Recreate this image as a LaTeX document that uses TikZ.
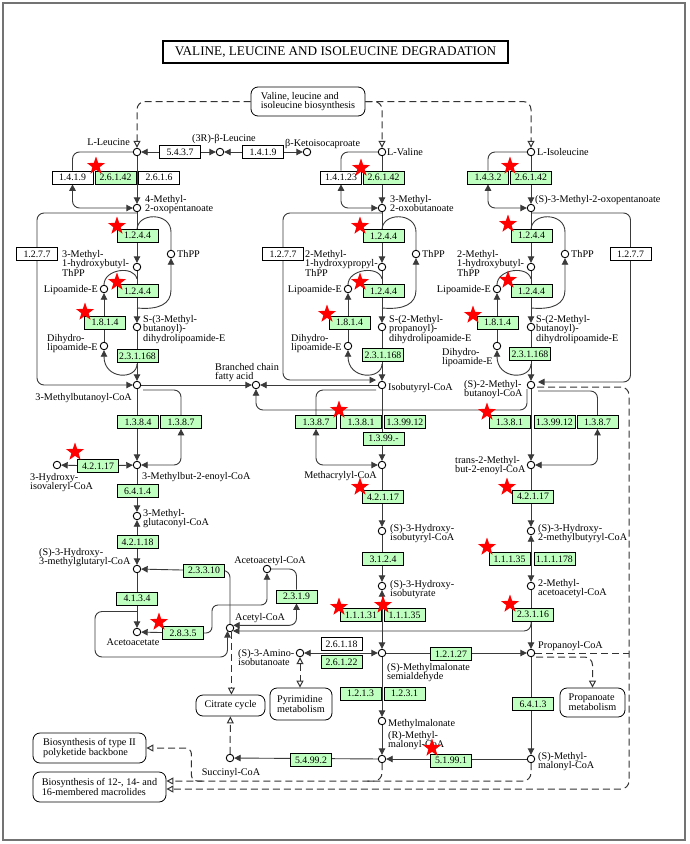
\documentclass[tikz,border=0pt]{standalone}
\usepackage{fontspec}
\setmainfont{Liberation Serif}
\usetikzlibrary{arrows.meta,calc,shapes.geometric}
\definecolor{ecgreen}{HTML}{BFFFBF}
\definecolor{linegray}{HTML}{3A3A3A}
\pgfdeclarelayer{bg}
\pgfsetlayers{bg,main}
\tikzset{
  cpd/.style={circle, draw=black, fill=white, line width=0.9pt,
    inner sep=0, minimum size=7.5pt},
  ecbox/.style={draw=black, line width=0.7pt, fill=ecgreen,
    minimum width=41pt, minimum height=13pt, inner sep=0,
    font=\fontsize{9.8}{10}\selectfont},
  ecwhite/.style={ecbox, fill=white},
  lbl/.style={inner sep=0, align=left, font=\fontsize{10.2}{9.6}\selectfont},
  mapbox/.style={draw=black, line width=0.8pt, rounded corners=7pt,
    fill=white, align=left, inner sep=0, font=\fontsize{10.2}{9.6}\selectfont},
  rxn/.style={draw=linegray, line width=0.9pt},
  dsh/.style={draw=black!80, line width=1pt, dash pattern=on 7pt off 4pt},
  opentip/.style={-{Triangle[open, length=7pt, width=7pt]}},
  opentips/.style={{Triangle[open, length=7pt, width=7pt]}-{Triangle[open, length=7pt, width=7pt]}},
  redstar/.style={star, star points=5, star point ratio=2.5, fill=red,
    draw=none, inner sep=0, minimum size=19pt}
}
\begin{document}
\begin{tikzpicture}[x=1pt, y=-1pt, >={Triangle[length=6.5pt, width=6.5pt]}]
\useasboundingbox (0,0) rectangle (689,844);
\node[draw, line width=1.6pt, minimum width=345pt, minimum height=22pt, inner sep=0,
  font=\fontsize{13.2}{14}\selectfont] (title) at (335.5,52)
  {VALINE, LEUCINE AND ISOLEUCINE DEGRADATION};
\node[mapbox, minimum width=114pt, minimum height=29pt] (biosyn) at (308,101.5) {Valine, leucine and\\isoleucine biosynthesis};
\node[mapbox, minimum width=69pt, minimum height=21pt] (citrate) at (230.5,705.5) {Citrate cycle};
\node[mapbox, minimum width=62pt, minimum height=32pt] (pyr) at (301,704) {Pyrimidine\\metabolism};
\node[mapbox, minimum width=65pt, minimum height=29pt] (prop) at (592.5,702.5) {Propanoate\\metabolism};
\node[mapbox, minimum width=113pt, minimum height=30pt] (poly) at (89.5,748) {Biosynthesis of type II\\polyketide backbone};
\node[mapbox, minimum width=133pt, minimum height=30pt] (macro) at (99.5,787) {Biosynthesis of 12-, 14- and\\16-membered macrolides};

\node[cpd] (leu) at (137,152) {};
\node[cpd] (bleu) at (220,152) {};
\node[cpd] (kic) at (307,152) {};
\node[cpd] (val) at (382,152) {};
\node[cpd] (ile) at (531,152) {};
\node[cpd] (mop) at (137,208) {};
\node[cpd] (mob) at (382,208) {};
\node[cpd] (kmv) at (531,208) {};
\node[cpd] (mhbt) at (137,267) {};
\node[cpd] (mhpt) at (382,267) {};
\node[cpd] (mhbt2) at (531,267) {};
\node[cpd] (thpp1) at (171,254) {};
\node[cpd] (thpp2) at (416,254) {};
\node[cpd] (thpp3) at (565,254) {};
\node[cpd] (lip1) at (104,289) {};
\node[cpd] (lip2) at (348,289) {};
\node[cpd] (lip3) at (497,289) {};
\node[cpd] (smb) at (137,327) {};
\node[cpd] (smp) at (382,327) {};
\node[cpd] (smbu) at (531,327) {};
\node[cpd] (dhl1) at (104,346) {};
\node[cpd] (dhl2) at (348,346) {};
\node[cpd] (dhl3) at (497,346) {};
\node[cpd] (mbcoa) at (137,385) {};
\node[cpd] (bcfa) at (256,385) {};
\node[cpd] (ibcoa) at (382,385) {};
\node[cpd] (mbcoa2) at (531,385) {};
\node[cpd] (hiv) at (57,465) {};
\node[cpd] (mbe) at (137,465) {};
\node[cpd] (macoa) at (382,465) {};
\node[cpd] (tmb) at (531,465) {};
\node[cpd] (mgc) at (137,516) {};
\node[cpd] (hibcoa) at (382,531) {};
\node[cpd] (hmbcoa) at (531,531) {};
\node[cpd] (hmg) at (137,569) {};
\node[cpd] (acacoa) at (267,569) {};
\node[cpd] (hib) at (382,586) {};
\node[cpd] (macacoa) at (531,586) {};
\node[cpd] (accoa) at (230,628) {};
\node[cpd] (aca) at (137,632) {};
\node[cpd] (aib) at (300,653) {};
\node[cpd] (mmsa) at (382,653) {};
\node[cpd] (ppcoa) at (531,653) {};
\node[cpd] (mma) at (382,721) {};
\node[cpd] (sucoa) at (230,758) {};
\node[cpd] (rmmcoa) at (382,759) {};
\node[cpd] (smmcoa) at (531,759) {};

\node[ecwhite] (e5437) at (180,152) {5.4.3.7};
\node[ecwhite] (e1419b) at (263,152) {1.4.1.9};
\node[ecwhite] (e1419a) at (72.5,177.5) {1.4.1.9};
\node[ecbox] (e26142a) at (115.5,177.5) {2.6.1.42};
\node[ecwhite] (e2616) at (159,177.5) {2.6.1.6};
\node[ecwhite] (e14123) at (341,177.5) {1.4.1.23};
\node[ecbox] (e26142b) at (383.5,177.5) {2.6.1.42};
\node[ecbox] (e1432) at (488,177.5) {1.4.3.2};
\node[ecbox] (e26142c) at (531,177.5) {2.6.1.42};
\node[ecbox] (e1244a) at (137.5,235.5) {1.2.4.4};
\node[ecbox] (e1244c) at (383.5,236) {1.2.4.4};
\node[ecbox] (e1244e) at (531.5,235.5) {1.2.4.4};
\node[ecwhite] (e1277a) at (37,254) {1.2.7.7};
\node[ecwhite] (e1277b) at (283,254) {1.2.7.7};
\node[ecwhite] (e1277c) at (630.5,254) {1.2.7.7};
\node[ecbox] (e1244b) at (137.5,291) {1.2.4.4};
\node[ecbox] (e1244d) at (383.5,291) {1.2.4.4};
\node[ecbox] (e1244f) at (531.5,291) {1.2.4.4};
\node[ecbox] (e1814a) at (105,322.5) {1.8.1.4};
\node[ecbox] (e1814b) at (349.5,322.5) {1.8.1.4};
\node[ecbox] (e1814c) at (497.5,322.5) {1.8.1.4};
\node[ecbox] (e231168a) at (137.5,356) {2.3.1.168};
\node[ecbox] (e231168b) at (383,355) {2.3.1.168};
\node[ecbox] (e231168c) at (530,354) {2.3.1.168};
\node[ecbox] (e1384) at (138,422) {1.3.8.4};
\node[ecbox] (e1387a) at (181,422) {1.3.8.7};
\node[ecbox] (e1387b) at (316,422) {1.3.8.7};
\node[ecbox] (e1381a) at (361,422) {1.3.8.1};
\node[ecbox] (e139912a) at (405,422) {1.3.99.12};
\node[ecbox] (e1399) at (383.5,438.5) {1.3.99.-};
\node[ecbox] (e1381b) at (509.5,422) {1.3.8.1};
\node[ecbox] (e139912b) at (554.5,422) {1.3.99.12};
\node[ecbox] (e1387c) at (597.5,422) {1.3.8.7};
\node[ecbox] (e42117a) at (98,466) {4.2.1.17};
\node[ecbox] (e6414) at (137.5,491) {6.4.1.4};
\node[ecbox] (e42117b) at (383,497) {4.2.1.17};
\node[ecbox] (e42117c) at (533,496.5) {4.2.1.17};
\node[ecbox] (e42118) at (137.5,542) {4.2.1.18};
\node[ecbox] (e3124) at (383,559) {3.1.2.4};
\node[ecbox] (e11135b) at (509.5,559) {1.1.1.35};
\node[ecbox] (e111178) at (554.5,559) {1.1.1.178};
\node[ecbox] (e23310) at (204,570.5) {2.3.3.10};
\node[ecbox] (e2319) at (296.5,596.5) {2.3.1.9};
\node[ecbox] (e4134) at (137,598.5) {4.1.3.4};
\node[ecbox] (e11131) at (361,615) {1.1.1.31};
\node[ecbox] (e11135a) at (404.5,615) {1.1.1.35};
\node[ecbox] (e23116) at (533,614.5) {2.3.1.16};
\node[ecbox] (e2835) at (183,633) {2.8.3.5};
\node[ecwhite] (e26118) at (341.5,644) {2.6.1.18};
\node[ecbox] (e26122) at (341.5,662) {2.6.1.22};
\node[ecbox] (e12127) at (451,654) {1.2.1.27};
\node[ecbox] (e1213) at (360.5,693.5) {1.2.1.3};
\node[ecbox] (e1231) at (404.5,693.5) {1.2.3.1};
\node[ecbox] (e6413) at (533,704) {6.4.1.3};
\node[ecbox] (e54992) at (311,760) {5.4.99.2};
\node[ecbox] (e51991) at (451,760.5) {5.1.99.1};

\node[lbl, anchor=north east] (tleu) at (130,139) {L-Leucine};
\node[lbl, anchor=north] (tbleu) at (224,134) {(3R)-β-Leucine};
\node[lbl, anchor=north west] (tkic) at (285,139) {β-Ketoisocaproate};
\node[lbl, anchor=north west] (tval) at (387,148) {L-Valine};
\node[lbl, anchor=north west] (tile) at (537,148) {L-Isoleucine};
\node[lbl, anchor=north west] (tmop) at (145,195) {4-Methyl-\\2-oxopentanoate};
\node[lbl, anchor=north west] (tmob) at (390,195) {3-Methyl-\\2-oxobutanoate};
\node[lbl, anchor=north west] (tkmv) at (535,195) {(S)-3-Methyl-2-oxopentanoate};
\node[lbl, anchor=north west] (tmhbt) at (62,250) {3-Methyl-\\1-hydroxybutyl-\\ThPP};
\node[lbl, anchor=north west] (tmhpt) at (305,250) {2-Methyl-\\1-hydroxypropyl-\\ThPP};
\node[lbl, anchor=north west] (tmhbt2) at (457,250) {2-Methyl-\\1-hydroxybutyl-\\ThPP};
\node[lbl, anchor=north west] (tthpp1) at (177,250) {ThPP};
\node[lbl, anchor=north west] (tthpp2) at (422,250) {ThPP};
\node[lbl, anchor=north west] (tthpp3) at (571,250) {ThPP};
\node[lbl, anchor=north east] (tlip1) at (98,285) {Lipoamide-E};
\node[lbl, anchor=north east] (tlip2) at (342,285) {Lipoamide-E};
\node[lbl, anchor=north east] (tlip3) at (491,285) {Lipoamide-E};
\node[lbl, anchor=north west] (tsmb) at (143,315) {S-(3-Methyl-\\butanoyl)-\\dihydrolipoamide-E};
\node[lbl, anchor=north west] (tsmp) at (389,315) {S-(2-Methyl-\\propanoyl)-\\dihydrolipoamide-E};
\node[lbl, anchor=north west] (tsmbu) at (536,315) {S-(2-Methyl-\\butanoyl)-\\dihydrolipoamide-E};
\node[lbl, anchor=north west] (tdhl1) at (47,334) {Dihydro-\\lipoamide-E};
\node[lbl, anchor=north west] (tdhl2) at (291,334) {Dihydro-\\lipoamide-E};
\node[lbl, anchor=north west] (tdhl3) at (442,348) {Dihydro-\\lipoamide-E};
\node[lbl, anchor=north east] (tmbcoa) at (132,393) {3-Methylbutanoyl-CoA};
\node[lbl, anchor=north west] (tbcfa) at (215,363) {Branched chain\\fatty acid};
\node[lbl, anchor=north west] (tibcoa) at (388,383) {Isobutyryl-CoA};
\node[lbl, anchor=north west] (tmbcoa2) at (464,380) {(S)-2-Methyl-\\butanoyl-CoA};
\node[lbl, anchor=north west] (tmbe) at (142,472) {3-Methylbut-2-enoyl-CoA};
\node[lbl, anchor=north west] (thiv) at (30,473) {3-Hydroxy-\\isovaleryl-CoA};
\node[lbl, anchor=north east] (tmacoa) at (377,471) {Methacrylyl-CoA};
\node[lbl, anchor=north west] (ttmb) at (455,456) {trans-2-Methyl-\\but-2-enoyl-CoA};
\node[lbl, anchor=north west] (tmgc) at (143,509) {3-Methyl-\\glutaconyl-CoA};
\node[lbl, anchor=north west] (thmg) at (39,548) {(S)-3-Hydroxy-\\3-methylglutaryl-CoA};
\node[lbl, anchor=north west] (thibcoa) at (390,524) {(S)-3-Hydroxy-\\isobutyryl-CoA};
\node[lbl, anchor=north west] (thmbcoa) at (538,524) {(S)-3-Hydroxy-\\2-methylbutyryl-CoA};
\node[lbl, anchor=north] (tacacoa) at (270,556) {Acetoacetyl-CoA};
\node[lbl, anchor=north west] (thib) at (390,580) {(S)-3-Hydroxy-\\isobutyrate};
\node[lbl, anchor=north west] (tmacacoa) at (538,579) {2-Methyl-\\acetoacetyl-CoA};
\node[lbl, anchor=north west] (taccoa) at (235,613) {Acetyl-CoA};
\node[lbl, anchor=north] (taca) at (133,639) {Acetoacetate};
\node[lbl, anchor=north west] (tppcoa) at (538,641) {Propanoyl-CoA};
\node[lbl, anchor=north west] (taib) at (238,649) {(S)-3-Amino-\\isobutanoate};
\node[lbl, anchor=north west] (tmmsa) at (387,663) {(S)-Methylmalonate\\semialdehyde};
\node[lbl, anchor=north west] (tmma) at (388,719) {Methylmalonate};
\node[lbl, anchor=north west] (trmmcoa) at (388,731) {(R)-Methyl-\\malonyl-CoA};
\node[lbl, anchor=north west] (tsmmcoa) at (538,752) {(S)-Methyl-\\malonyl-CoA};
\node[lbl, anchor=north] (tsucoa) at (231,768) {Succinyl-CoA};

\begin{pgfonlayer}{bg}
\fill[white] (0,0) rectangle (689,844);
\draw[black!55, line width=1.5pt] (3,3) rectangle (685,840);
\draw[dsh, opentip, rounded corners=8pt] (biosyn.west) -| (leu);
\draw[dsh, opentip, rounded corners=8pt] (biosyn.east) -| (val);
\draw[dsh, opentip, rounded corners=8pt] (biosyn.east) -| (ile);
\draw[rxn, ->] (e5437) -- (leu);
\draw[rxn, ->] (e5437) -- (bleu);
\draw[rxn, ->] (e1419b) -- (bleu);
\draw[rxn, ->] (e1419b) -- (kic);
\draw[rxn, ->] (leu) -- (mop);
\draw[rxn, <->, rounded corners=7pt] (leu) -| (e1419a) |- (mop);
\draw[rxn, ->] (val) -- (mob);
\draw[rxn, <->, rounded corners=7pt] (val) -| (e14123) |- (mob);
\draw[rxn, ->] (ile) -- (kmv);
\draw[rxn, <->, rounded corners=7pt] (ile) -| (e1432) |- (kmv);
\draw[rxn, ->] (mop) -- (mhbt);
\draw[rxn, ->] (mhbt) -- (smb);
\draw[rxn, ->] (smb) -- (mbcoa);
\draw[rxn, ->] (mbcoa) -- (mbe);
\draw[rxn, ->] (mbe) -- (mgc);
\draw[rxn, <->] (mgc) -- (hmg);
\draw[rxn, ->] (hmg) -- (aca);
\draw[rxn, ->] (mob) -- (mhpt);
\draw[rxn, ->] (mhpt) -- (smp);
\draw[rxn, ->] (smp) -- (ibcoa);
\draw[rxn, ->] (ibcoa) -- (macoa);
\draw[rxn, ->] (macoa) -- (hibcoa);
\draw[rxn, ->] (hibcoa) -- (hib);
\draw[rxn, <->] (hib) -- (mmsa);
\draw[rxn, ->] (mmsa) -- (mma);
\draw[rxn, ->] (mma) -- (rmmcoa);
\draw[rxn, ->] (kmv) -- (mhbt2);
\draw[rxn, ->] (mhbt2) -- (smbu);
\draw[rxn, ->] (smbu) -- (mbcoa2);
\draw[rxn, ->] (mbcoa2) -- (tmb);
\draw[rxn, ->] (tmb) -- (hmbcoa);
\draw[rxn, <->] (hmbcoa) -- (macacoa);
\draw[rxn, ->] (macacoa) -- (ppcoa);
\draw[rxn, ->] (ppcoa) -- (smmcoa);
% cofactor loops
\draw[rxn] ($(thpp1)+(-34,-24)$) .. controls ($(thpp1)+(-34,-42)$) and ($(thpp1)+(0,-42)$) .. ($(thpp1)+(0,-22)$) -- (thpp1);
\draw[rxn, ->] ($(thpp1)+(-34,54)$) .. controls ($(thpp1)+(-12,56)$) and ($(thpp1)+(0,50)$) .. ($(thpp1)+(0,36)$) -- (thpp1);
\draw[rxn] (lip1) .. controls ($(lip1)+(0,-20)$) and ($(lip1)+(30,-24)$) .. ($(lip1)+(33,-10)$);
\draw[rxn, ->] (dhl1) -- (lip1);
\draw[rxn, ->] ($(dhl1)+(33,18)$) .. controls ($(dhl1)+(33,34)$) and ($(dhl1)+(0,34)$) .. (dhl1);
\draw[rxn] ($(thpp2)+(-34,-24)$) .. controls ($(thpp2)+(-34,-42)$) and ($(thpp2)+(0,-42)$) .. ($(thpp2)+(0,-22)$) -- (thpp2);
\draw[rxn, ->] ($(thpp2)+(-34,54)$) .. controls ($(thpp2)+(-12,56)$) and ($(thpp2)+(0,50)$) .. ($(thpp2)+(0,36)$) -- (thpp2);
\draw[rxn] (lip2) .. controls ($(lip2)+(0,-20)$) and ($(lip2)+(31,-24)$) .. ($(lip2)+(34,-10)$);
\draw[rxn, ->] (dhl2) -- (lip2);
\draw[rxn, ->] ($(dhl2)+(34,18)$) .. controls ($(dhl2)+(34,34)$) and ($(dhl2)+(0,34)$) .. (dhl2);
\draw[rxn] ($(thpp3)+(-34,-24)$) .. controls ($(thpp3)+(-34,-42)$) and ($(thpp3)+(0,-42)$) .. ($(thpp3)+(0,-22)$) -- (thpp3);
\draw[rxn, ->] ($(thpp3)+(-34,54)$) .. controls ($(thpp3)+(-12,56)$) and ($(thpp3)+(0,50)$) .. ($(thpp3)+(0,36)$) -- (thpp3);
\draw[rxn] (lip3) .. controls ($(lip3)+(0,-20)$) and ($(lip3)+(31,-24)$) .. ($(lip3)+(34,-10)$);
\draw[rxn, ->] (dhl3) -- (lip3);
\draw[rxn, ->] ($(dhl3)+(34,18)$) .. controls ($(dhl3)+(34,34)$) and ($(dhl3)+(0,34)$) .. (dhl3);
% 1.2.7.7 shortcuts
\draw[rxn, ->, rounded corners=7pt] ($(mop)+(0,5)$) -| (e1277a) |- (mbcoa);
\draw[rxn, ->, rounded corners=7pt] ($(mob)+(0,5)$) -| (e1277b) |- ($(ibcoa)+(-6,-5)$);
\draw[rxn, ->, rounded corners=7pt] ($(kmv)+(0,5)$) -| (e1277c) |- ($(mbcoa2)+(7,-3)$);
% branched chain fatty acid
\draw[rxn, ->] (mbcoa) -- (bcfa);
\draw[rxn, ->] (ibcoa) -- (bcfa);
\draw[rxn, ->, rounded corners=7pt] ($(mbcoa2)+(-4,4)$) |- ($(bcfa)+(0,25)$) -- (bcfa);
% acyl-CoA dehydrogenase loops
\draw[rxn, <->, rounded corners=7pt] ($(mbcoa)+(6,5)$) -| (e1387a) |- (mbe);
\draw[rxn, <->, rounded corners=7pt] ($(ibcoa)+(-6,5)$) -| (e1387b) |- (macoa);
\draw[rxn, <->, rounded corners=7pt] ($(mbcoa2)+(7,6)$) -| (e1387c) |- (tmb);
\draw[rxn, ->] (e42117a) -- (hiv);
\draw[rxn, ->] (e42117a) -- (mbe);
% ketone bodies and acetyl-CoA
\draw[rxn, rounded corners=7pt] (accoa) |- (e23310);
\draw[rxn, ->] (e23310) -- (hmg);
\draw[rxn, <->, rounded corners=7pt] (acacoa) -| (e2319) |- (accoa.40);
\draw[rxn, ->] (e2835) -- (aca);
\draw[rxn, ->, rounded corners=6pt] (e2835.east) -| ($(acacoa)+(-55,36)$) -| (acacoa);
\draw[rxn, ->, rounded corners=7pt] ($(e4134)+(0,13)$) -| ($(aca)+(-42,25)$) -| ($(accoa)+(-2.5,3)$);
\draw[rxn, ->, rounded corners=7pt] ($(e23116.south)+(-2,0)$) |- (accoa.-45);
\draw[dsh, opentip] (accoa.-70) -- (accoa.-70 |- citrate.north);
\draw[dsh, opentip] (sucoa) -- (citrate);
% propanoate branch
\draw[rxn, <->] (aib) -- (mmsa);
\draw[dsh, opentips] (aib) -- (aib |- pyr.north);
\draw[rxn, ->] (mmsa) -- (ppcoa);
\draw[rxn, ->] (smmcoa) -- (rmmcoa);
\draw[rxn, ->] (rmmcoa) -- (sucoa);
\coordinate (rdash) at (629,789);
\draw[dsh, opentip, rounded corners=8pt] ($(mbcoa2)+(6,2)$) -| (rdash) -- (macro.east |- rdash);
\draw[dsh] (ppcoa) -- (ppcoa -| rdash);
\draw[dsh, opentip, rounded corners=8pt] ($(ppcoa)+(5,4)$) -| (prop);
\draw[dsh, opentip, rounded corners=8pt] (smmcoa) |- ($(macro.east)+(0,-6)$);
\draw[dsh, rounded corners=8pt] (rmmcoa) |- ($(rmmcoa)+(-15,22)$);
\draw[dsh, opentip, rounded corners=6pt] ($(macro.east)+(36,-6)$) -| ($(poly.east)+(45,0)$) -- (poly.east);
\end{pgfonlayer}

\foreach \sx/\sy [count=\i] in {96/166, 361/168, 510/166, 117/226, 360/226, 508/224,
  117/282, 360/282, 508/280, 85/312, 327/314, 473/315, 339/410, 487/412, 75/452,
  360/487, 507/487, 487/547, 339/607, 383/605, 510/604, 159/622, 432/748}
  \node[redstar] (star\i) at (\sx,\sy) {};
\end{tikzpicture}
\end{document}
